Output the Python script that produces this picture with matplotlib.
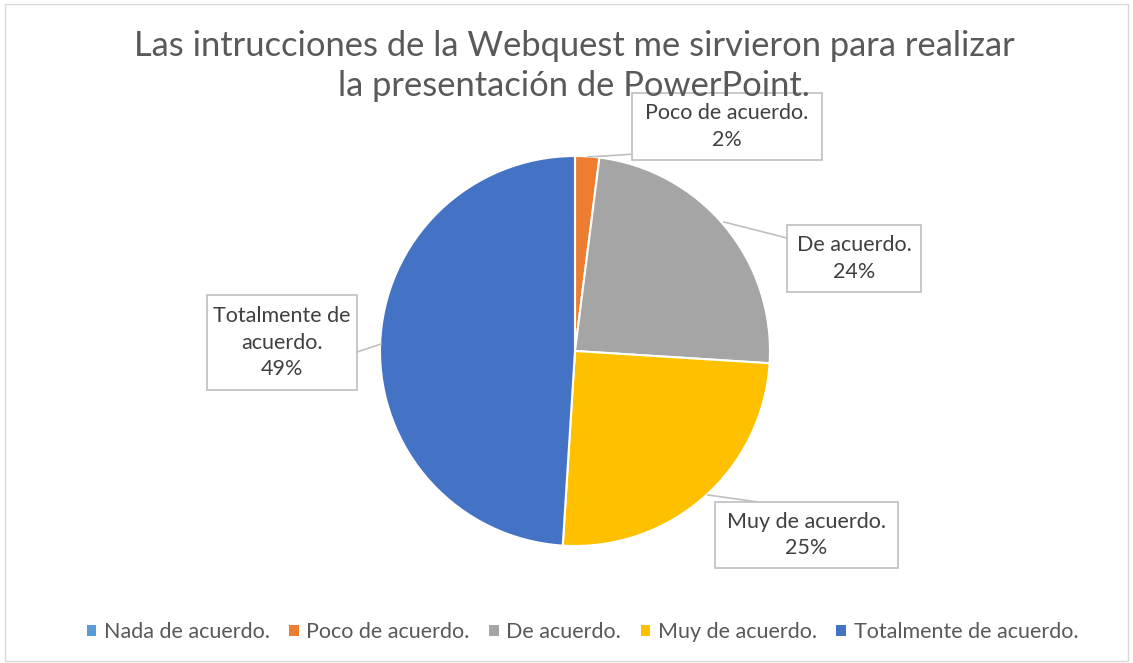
import matplotlib
matplotlib.use("Agg")
import matplotlib.pyplot as plt
from matplotlib.patches import Rectangle
import numpy as np

categories = ["Nada de acuerdo.", "Poco de acuerdo.", "De acuerdo.", "Muy de acuerdo.", "Totalmente de acuerdo."]
values = [0, 2, 24, 25, 49]
colors = ["#5B9BD5", "#ED7D31", "#A5A5A5", "#FFC000", "#4472C4"]
label_texts = ["", "Poco de acuerdo.\n2%", "De acuerdo.\n24%", "Muy de acuerdo.\n25%", "Totalmente de\nacuerdo.\n49%"]
title = "Las intrucciones de la Webquest me sirvieron para realizar\nla presentación de PowerPoint."

plt.rcParams['font.family'] = ['Lato', 'DejaVu Sans']
W, H = 1133, 663
fig = plt.figure(figsize=(W/100, H/100), dpi=100)
ax = fig.add_axes([0, 0, 1, 1])
CX, CY, R = 575, 351, 195

def d(px, py):
    return ((px - CX) / R, (CY - py) / R)

wedges, _ = ax.pie(values, colors=colors, startangle=90, counterclock=False,
                   radius=1, wedgeprops=dict(edgecolor="white", linewidth=1.5))
ax.set_aspect('auto')
ax.set_xlim(-CX / R, (W - CX) / R)
ax.set_ylim(-(H - CY) / R, CY / R)
ax.axis('off')

# figure border
fig.patches.append(Rectangle((5/W, 2/H), (W-10)/W, (H-6)/H, transform=fig.transFigure,
                             fill=False, edgecolor="#D9D9D9", lw=1))

# label boxes (pixel boxes: x0, y0, x1, y1) and leader line (box point, slice point)
boxes = {
    1: ((632, 93, 822, 160), (636, 154), (588, 157)),
    2: ((787, 225, 921, 292), (787, 238), (724, 222)),
    3: ((715, 502, 898, 568), (758, 502), (708, 495)),
    4: ((207, 295, 357, 390), (357, 352), (381, 344)),
}
for i, (bx, bp, sp) in boxes.items():
    x0, y0 = d(bx[0], bx[3])
    x1, y1 = d(bx[2], bx[1])
    ax.add_patch(Rectangle((x0, y0), x1 - x0, y1 - y0, facecolor="white",
                           edgecolor="#BFBFBF", lw=1.2, zorder=3))
    p1 = d(*bp); p2 = d(*sp)
    ax.plot([p1[0], p2[0]], [p1[1], p2[1]], color="#BFBFBF", lw=1.2, zorder=2)
    ax.text((x0 + x1) / 2, (y0 + y1) / 2, label_texts[i], ha="center", va="center",
            fontsize=15.5, color="#404040", zorder=4, linespacing=1.4)

fig.text(0.507, 1 - 66/H, title, ha="center", va="center", fontsize=24.8,
         color="#595959", linespacing=1.3)

handles = [Rectangle((0, 0), 1, 1, facecolor=c) for c in colors]
leg = fig.legend(handles, categories, loc="center", bbox_to_anchor=(0.514, 1 - 632/H),
                 ncol=5, frameon=False, fontsize=15.5, handlelength=0.45, handleheight=0.45,
                 handletextpad=0.35, columnspacing=0.9, labelcolor="#595959")

fig.savefig("out.png", dpi=100)
